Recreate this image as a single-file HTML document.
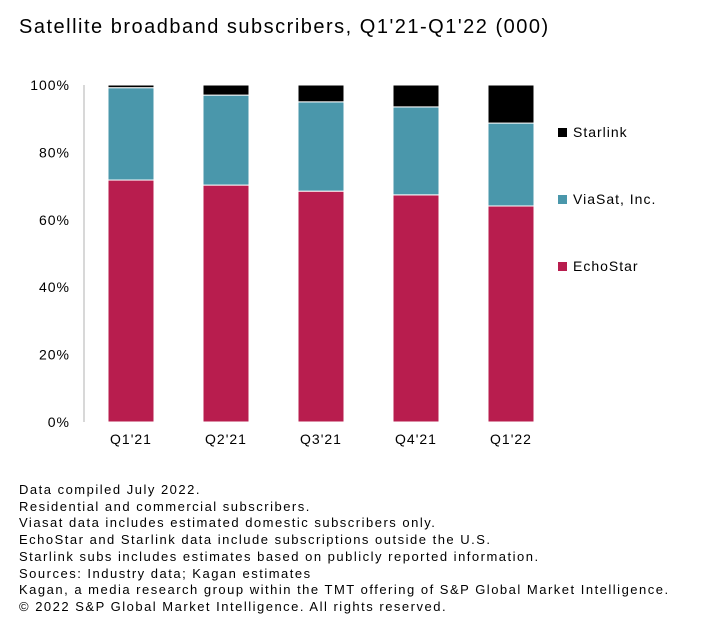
<!DOCTYPE html>
<html><head><meta charset="utf-8"><style>
body{margin:0;background:#fff;font-family:"Liberation Sans",sans-serif;color:#000}
#t{position:absolute;left:19px;top:16px;font-size:20px;letter-spacing:1.5px}
#n{position:absolute;left:19px;top:482px;font-size:13px;line-height:16.7px;letter-spacing:1.5px}
</style></head><body>
<div id="t">Satellite broadband subscribers, Q1'21-Q1'22 (000)</div>
<svg id="c" width="720" height="470" style="position:absolute;left:0;top:0"></svg>
<div id="n">Data compiled July 2022.<br>Residential and commercial subscribers.<br>Viasat data includes estimated domestic subscribers only.<br>EchoStar and Starlink data include subscriptions outside the U.S.<br>Starlink subs includes estimates based on publicly reported information.<br>Sources: Industry data; Kagan estimates<br>Kagan, a media research group within the TMT offering of S&amp;P Global Market Intelligence.<br>© 2022 S&amp;P Global Market Intelligence. All rights reserved.</div>
<script>
const categories=["Q1'21","Q2'21","Q3'21","Q4'21","Q1'22"];
const echostar=[71.8,70.3,68.5,67.4,64.1];
const viasat=[27.4,26.7,26.5,26.1,24.6];
const starlink=[0.8,3.0,5.0,6.5,11.3];
const ticks=[0,20,40,60,80,100];
const NS="http://www.w3.org/2000/svg",svg=document.getElementById('c');
const y=v=>422-v*3.37, x=i=>131+i*95;
function mk(t,a,txt){const e=document.createElementNS(NS,t);for(const k in a)e.setAttribute(k,a[k]);if(txt!==undefined)e.textContent=txt;svg.appendChild(e);return e;}
ticks.forEach(t=>{const e=mk('text',{x:70,y:y(t)+5,'text-anchor':'end','font-size':14,'letter-spacing':1,'font-family':'Liberation Sans'},t+'%');

});
const ax=mk('line',{x1:84,y1:y(100),x2:84,y2:y(0),stroke:'#ccc','stroke-width':1.5});


const series=[[echostar,'#b81d4e','echostar'],[viasat,'#4a97ab','viasat'],[starlink,'#000','starlink']];
categories.forEach((c,i)=>{let base=0;
series.forEach(([d,col,nm])=>{const r=mk('rect',{x:x(i)-23,y:y(base+d[i]),width:46,height:d[i]*3.37,fill:col,stroke:'#fff','stroke-width':1});


base+=d[i];});
const l=mk('text',{x:x(i),y:444,'text-anchor':'middle','font-size':14,'letter-spacing':1,'font-family':'Liberation Sans'},c);

});
[['Starlink','#000',133],['ViaSat, Inc.','#4a97ab',200],['EchoStar','#b81d4e',267]].forEach(([n,col,yy])=>{
const r=mk('rect',{x:558,y:yy-5,width:9,height:9,fill:col});


const t=mk('text',{x:573,y:yy+4,'font-size':14,'letter-spacing':1,'font-family':'Liberation Sans'},n);

});
</script>
</body></html>
